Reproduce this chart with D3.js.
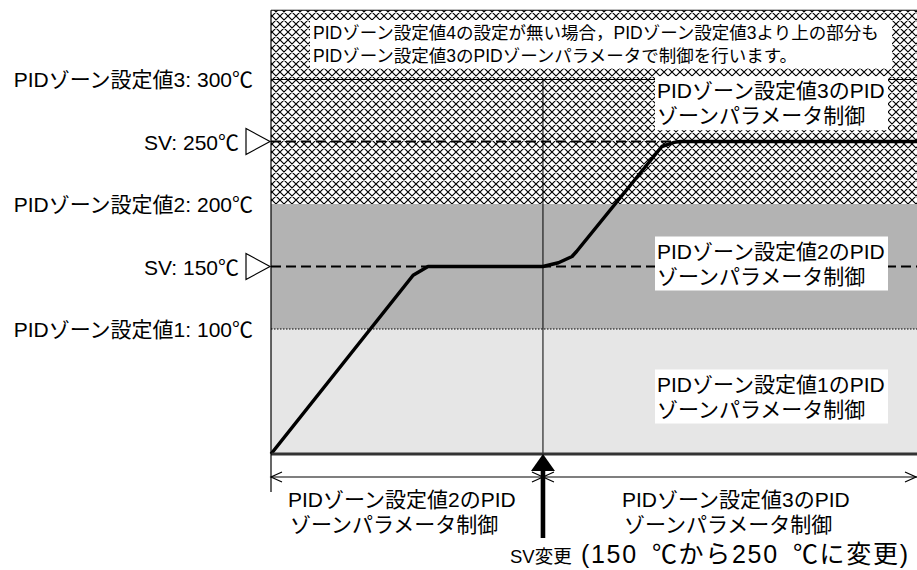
<!DOCTYPE html>
<html><head><meta charset="utf-8">
<script src="https://cdn.jsdelivr.net/npm/d3@7"></script>
<style>
html,body{margin:0;padding:0;background:#fff;}
text{font-family:"Liberation Sans",Arial,"Noto Sans CJK JP",sans-serif;fill:#000;}
</style></head>
<body>
<svg id="chart" width="917" height="570"></svg>
<script>
// ---- data ----
const zoneValues = [100, 200, 300];
const zoneLabels = ["PIDゾーン設定値1: 100℃", "PIDゾーン設定値2: 200℃", "PIDゾーン設定値3: 300℃"];
const svValues = [150, 250];
const svLabels = ["SV: 150℃", "SV: 250℃"];
const zoneTexts = [
  ["PIDゾーン設定値1のPID", "ゾーンパラメータ制御"],
  ["PIDゾーン設定値2のPID", "ゾーンパラメータ制御"],
  ["PIDゾーン設定値3のPID", "ゾーンパラメータ制御"]
];
const noteLines = ["PIDゾーン設定値4の設定が無い場合，PIDゾーン設定値3より上の部分も",
                   "PIDゾーン設定値3のPIDゾーンパラメータで制御を行います。"];
const periodTexts = [
  ["PIDゾーン設定値2のPID", "ゾーンパラメータ制御"],
  ["PIDゾーン設定値3のPID", "ゾーンパラメータ制御"]
];
const svChangeTime = 42.1;
const svChangeLabel = "SV変更";
const svChangeDetail = "(150\u2002℃から250\u2002℃に変更)";
// process value curve: time (arbitrary units), temperature (℃)
const timeValues = [0, 22.0, 24.3, 42.1, 44.5, 46.6, 47.3, 60.5, 62.4, 63.3, 100];
const tempValues = [0, 143, 150, 150, 153, 158, 162, 246, 249.3, 250, 250];
const tempTop = 355;

// ---- scales ----
const svg = d3.select("#chart");
const x = d3.scaleLinear().domain([0, 100]).range([271, 917]);
const y = d3.scaleLinear().domain([0, 300]).range([454, 79]);

// patterns
const defs = svg.append("defs");
const pat = defs.append("pattern").attr("id", "hatch").attr("patternUnits", "userSpaceOnUse")
  .attr("width", 8).attr("height", 8);
pat.append("rect").attr("width", 8).attr("height", 8).attr("fill", "#fff");
pat.append("path").attr("d", "M0,0L8,8M8,0L0,8M-1,7L1,9M7,-1L9,1M-1,1L1,-1M7,9L9,7")
  .attr("stroke", "#000").attr("stroke-width", 1.15);

// zones
const zoneBands = [
  {lo: 0, hi: zoneValues[0], fill: "#e6e6e6"},
  {lo: zoneValues[0], hi: zoneValues[1], fill: "#b3b3b3"},
  {lo: zoneValues[1], hi: zoneValues[2], fill: "url(#hatch)"},
  {lo: zoneValues[2], hi: tempTop, fill: "url(#hatch)"}
];
svg.selectAll("rect.zone").data(zoneBands).join("rect").attr("class", "zone")
  .attr("x", x(0)).attr("width", x(100) - x(0))
  .attr("y", d => y(d.hi)).attr("height", d => y(d.lo) - y(d.hi))
  .attr("fill", d => d.fill);

// boundary lines
svg.append("line").attr("x1", x(0)).attr("x2", x(100)).attr("y1", y(zoneValues[0])).attr("y2", y(zoneValues[0]))
  .attr("stroke", "#000").attr("stroke-width", 1.2).attr("stroke-dasharray", "1.5,1.5");
svg.append("line").attr("x1", x(0)).attr("x2", x(100)).attr("y1", y(zoneValues[2]) + 0.5).attr("y2", y(zoneValues[2]) + 0.5)
  .attr("stroke", "#000").attr("stroke-width", 1);
svg.append("line").attr("x1", x(0)).attr("x2", x(100)).attr("y1", y(tempTop)).attr("y2", y(tempTop))
  .attr("stroke", "#000").attr("stroke-width", 1.2);

// SV change vertical line
svg.append("line").attr("x1", x(svChangeTime)).attr("x2", x(svChangeTime))
  .attr("y1", y(zoneValues[2])).attr("y2", y(0)).attr("stroke", "#000").attr("stroke-width", 1);

// SV dashed lines
svg.selectAll("line.sv").data(svValues).join("line").attr("class", "sv")
  .attr("x1", x(0)).attr("x2", x(100)).attr("y1", d => y(d)).attr("y2", d => y(d))
  .attr("stroke", "#000").attr("stroke-width", 2).attr("stroke-dasharray", "10,5");

// top note box
svg.append("rect").attr("x", 310).attr("y", 20).attr("width", 582).attr("height", 48).attr("fill", "#fff");
svg.selectAll("text.note").data(noteLines).join("text").attr("class", "note")
  .attr("x", 313).attr("y", (d, i) => 39 + i * 22.5)
  .attr("font-size", 17.5).text(d => d);

// zone text boxes
const zoneTextY = [y(50) + 4, y(150) - 4, y(275) - 8];
zoneTexts.forEach((lines, i) => {
  const cy = zoneTextY[i];
  svg.append("rect").attr("x", 655).attr("y", cy - 26).attr("width", 233).attr("height", 54).attr("fill", "#fff");
  lines.forEach((t, j) => {
    svg.append("text").attr("x", 657).attr("y", cy - 4 + j * 25)
      .attr("font-size", 21).text(t);
  });
});

// PV curve
const pts = timeValues.map((t, i) => [t, tempValues[i]]);
svg.append("path").datum(pts)
  .attr("d", d3.line().x(d => x(d[0])).y(d => y(d[1])).curve(d3.curveLinear))
  .attr("fill", "none").attr("stroke", "#000").attr("stroke-width", 3.5).attr("stroke-linejoin", "round");

// bottom thick axis line
svg.append("line").attr("x1", x(0)).attr("x2", x(100)).attr("y1", y(0)).attr("y2", y(0))
  .attr("stroke", "#333").attr("stroke-width", 3);
// left axis line
svg.append("line").attr("x1", x(0)).attr("x2", x(0)).attr("y1", y(tempTop)).attr("y2", 492)
  .attr("stroke", "#000").attr("stroke-width", 1.2);

// left labels
svg.selectAll("text.zl").data(zoneValues).join("text").attr("class", "zl")
  .attr("x", 253).attr("y", d => y(d) + 8).attr("text-anchor", "end")
  .attr("font-size", 21).text((d, i) => zoneLabels[i]);
svg.selectAll("text.svl").data(svValues).join("text").attr("class", "svl")
  .attr("x", 239).attr("y", d => y(d) + 8).attr("text-anchor", "end")
  .attr("font-size", 21).text((d, i) => svLabels[i]);
svg.selectAll("path.tri").data(svValues).join("path").attr("class", "tri")
  .attr("d", d => `M${x(0) - 25},${y(d) - 13}L${x(0) - 1},${y(d)}L${x(0) - 25},${y(d) + 13}Z`)
  .attr("fill", "#fff").attr("stroke", "#000").attr("stroke-width", 1.2);

// period arrows
const ay = 477;
svg.append("line").attr("x1", x(0)).attr("x2", x(100)).attr("y1", ay).attr("y2", ay)
  .attr("stroke", "#000").attr("stroke-width", 1.2);
const xs = x(svChangeTime);
const chev = [
  `M${x(0) + 11},${ay - 5}L${x(0)},${ay}L${x(0) + 11},${ay + 5}`,
  `M${xs - 11},${ay - 5}L${xs},${ay}L${xs - 11},${ay + 5}`,
  `M${xs + 11},${ay - 5}L${xs},${ay}L${xs + 11},${ay + 5}`,
  `M${x(100) - 12},${ay - 5}L${x(100) - 1},${ay}L${x(100) - 12},${ay + 5}`
];
svg.selectAll("path.chev").data(chev).join("path").attr("class", "chev").attr("d", d => d)
  .attr("fill", "none").attr("stroke", "#000").attr("stroke-width", 1.2);

// SV change arrow
svg.append("rect").attr("x", xs - 2.3).attr("y", 468).attr("width", 4.6).attr("height", 70).attr("fill", "#000");
svg.append("path").attr("d", `M${xs},${y(0)}L${xs - 12},${471}L${xs + 12},${471}Z`).attr("fill", "#000");

// period texts
const periodX = [288, 622];
periodTexts.forEach((lines, i) => {
  lines.forEach((t, j) => {
    svg.append("text").attr("x", periodX[i] + (j ? 2 : 0)).attr("y", 507 + j * 25)
      .attr("font-size", 21).text(t);
  });
});

svg.append("text").attr("x", 510).attr("y", 563).attr("font-size", 18.5).text(svChangeLabel);
svg.append("text").attr("x", 581).attr("y", 563).attr("font-size", 25)
  .attr("textLength", 327).attr("lengthAdjust", "spacing").text(svChangeDetail);
</script>
</body></html>
